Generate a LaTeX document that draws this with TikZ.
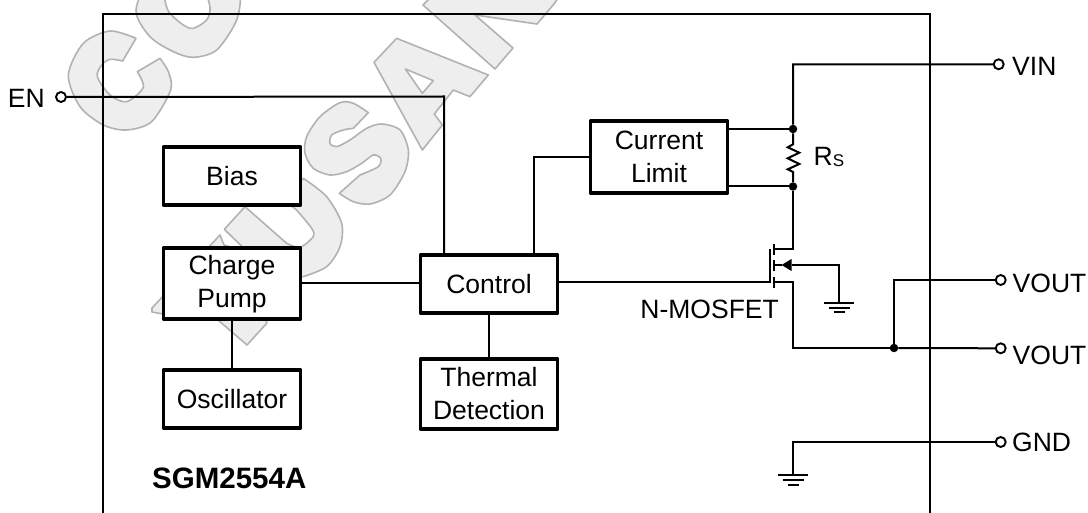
\documentclass[tikz,border=0pt]{standalone}
\usepackage{fontspec}
\setmainfont{Liberation Sans}
\begin{document}
\begin{tikzpicture}[x=1pt,y=-1pt,line join=miter,
  wire/.style={line width=2pt,black},
  wm/.style={draw=black!30,fill=black!6.5,line width=1.6pt,line join=round},
  wmhole/.style={draw=black!30,fill=white,line width=1.6pt,line join=round},
  block/.style={draw=black,fill=white,line width=3.4pt,minimum width=137pt,align=center,inner sep=0pt,font=\fontsize{26.5}{33}\selectfont,line join=round},
  pin/.style={circle,draw=black,fill=white,line width=1.9pt,minimum size=10pt,inner sep=0pt},
  dot/.style={circle,fill=black,minimum size=8.5pt,inner sep=0pt},
  lbl/.style={inner sep=0pt,font=\fontsize{26.5}{30}\selectfont},
  gbars/.pic={
    \draw[line width=2pt] (-15,0) -- (15,0);
    \draw[line width=2pt] (-10.5,5) -- (10.5,5);
    \draw[line width=2pt] (-5.5,9.7) -- (5.5,9.7);
  }]
\useasboundingbox (0,0) rectangle (1088,513);
\fill[white] (0,0) rectangle (1088,513);
\begin{scope}
\clip (0,0) rectangle (1088,513);
% watermark letters
\begin{scope}[shift={(60,0)},scale=1/3]
% C
\draw[wm] plot[smooth] coordinates {(228,115) (150,93) (70,130) (25,225) (60,320) (130,375) (200,390) (275,365) (332,270) (325,215) (300,175)}
  -- plot[smooth] coordinates {(232,215) (250,262) (200,305) (150,285) (112,230) (125,195) (150,178) (188,183)} -- cycle;
% O
\draw[wm,even odd rule] plot[smooth cycle] coordinates {(228,30) (270,110) (340,155) (400,172) (470,150) (530,60) (538,-30) (480,-100) (380,-120) (280,-80)}
  plot[smooth cycle] coordinates {(315,0) (328,38) (370,75) (400,85) (440,60) (450,22) (430,-30) (370,-50) (320,-30)};
\end{scope}
\begin{scope}[shift={(140,100)},scale=1/3]
% U
\draw[wm] (315,320) -- (253,388) -- (400,530) -- plot[smooth] coordinates {(490,530) (560,500) (600,440) (605,370) (560,290) (490,235)} -- (430,300) -- plot[smooth] coordinates {(470,330) (515,385) (520,410) (480,442) (440,430)} -- cycle;
% S
\draw[wm] plot[smooth] coordinates {(685,38) (640,10) (600,8) (540,50) (500,110) (495,160) (520,205) (570,225) (620,215) (665,190) (700,165) (722,175) (715,200) (660,225)} -- plot[smooth] coordinates {(598,280) (640,305) (690,312) (750,285) (795,215) (805,150) (780,90) (725,72) (680,85) (630,120) (590,140) (570,130) (575,105) (610,90) (640,85)} -- cycle;
\end{scope}
% K
\draw[wm] (152,308) -- (220,235) -- (224,245) -- (240,250) -- (267,323) -- (247,345) -- (218,320) -- (163,314) -- (152,312) -- cycle;
\begin{scope}[shift={(300,0)},scale=1/3]
% A
\draw[wm] (290,115) -- (565,225) -- (510,290) -- (460,270) -- (403,342) -- (427,375) -- (367,450) -- (222,187) -- cycle;
\draw[wmhole] (316,207) -- (400,242) -- (367,280) -- cycle;
\end{scope}
% N
\draw[wm] (423,5) -- (495,69) -- (513,48) -- (475,15) -- (537,24) -- (554,4) -- (562,-8) -- (436,-8) -- cycle;
\end{scope}
% frame
\coordinate (fbl) at (103,513);
\coordinate (ftl) at (103,14);
\coordinate (ftr) at (930,14);
\coordinate (fbr) at (930,513);
\draw[line width=2pt] (fbl) -- (ftl) -- (ftr) -- (fbr);
% blocks
\node[block,minimum height=58pt] (bias) at (232,176) {Bias};
\node[block,minimum height=71pt] (cp) at (232,283.5) {};
\node[inner sep=0pt,align=center,font=\fontsize{26.5}{33}\selectfont] (cpt) at (232,284.5) {Charge\\Pump};
\node[block,minimum height=58pt] (osc) at (232,399) {Oscillator};
\node[block,minimum height=58pt] (ctl) at (489,284) {Control};
\node[block,minimum height=70pt] (th) at (489,394) {Thermal\\Detection};
\node[block,minimum height=72pt] (cl) at (659,157) {Current\\Limit};
% pins
\node[pin] (en) at (61,97) {};
\node[pin] (vin) at (998.7,64.3) {};
\node[pin] (vo1) at (1000.7,280) {};
\node[pin] (vo2) at (1000.7,348.3) {};
\node[pin] (gnd) at (1000.7,442) {};
\node[lbl,anchor=base east] (enl) at (45,108) {EN};
\node[lbl,anchor=base west] (vinl) at (1012,76) {VIN};
\node[lbl,anchor=base west] (vo1l) at (1012.5,292.5) {VOUT};
\node[lbl,anchor=base west] (vo2l) at (1012.5,364) {VOUT};
\node[lbl,anchor=base west] (gndl) at (1012,451.5) {GND};
\node[lbl,anchor=base west,font=\bfseries\fontsize{29.5}{30}\selectfont] (chip) at (152,488) {SGM2554A};
\node[lbl,anchor=base east] (nm) at (779,319) {N-MOSFET};
\node[lbl,anchor=base west] (rs) at (813.5,166) {R\raisebox{-1pt}{\fontsize{17}{17}\selectfont S}};
% junctions
\node[dot] (j1) at (793,129) {};
\node[dot] (j2) at (793,186.5) {};
\node[dot] (j3) at (894,348) {};
% mosfet points
\coordinate (gt) at (770,281.7);
\coordinate (dr) at (774,249.5);
\coordinate (so) at (774,281.7);
\coordinate (bd) at (774,265);
\coordinate (tp) at (781.5,265);
\coordinate (ab) at (791.5,265);
\coordinate (g1) at (839,302.7);
\coordinate (g2) at (793,475);
% wires
\draw[wire] (en.east) -- (444,96.5) -- (ctl.north -| 444,0);
\draw[wire] (cp.east) -- (ctl.west |- cp.east);
\draw[wire] (cp.south) -- (osc.north);
\draw[wire] (ctl.south) -- (th.north);
\draw[wire] (ctl.north -| 534,0) -- (534,157) -- (cl.west);
\draw[wire] (ctl.east |- gt) -- (gt);
\draw[wire] (cl.east |- j1) -- (j1);
\draw[wire] (cl.east |- j2) -- (j2);
\draw[wire] (vin.west) -- (793,64.5) -- (j1);
\draw[wire] (j1) -- (793,144.3) -- (787.7,147.3) -- (799.3,152.7) -- (787.7,158.3) -- (799.3,164) -- (787.7,169.3) -- (793,172) -- (j2);
\draw[wire] (j2) -- (793,249.5) -- (dr);
\draw[wire] (so) -- (793,281.7) -- (793,348) -- (j3);
\draw[wire] (j3) -- (vo2.west);
\draw[wire] (j3) -- (894,280) -- (vo1.west);
\draw[wire] (ab) -- (839,265) -- (g1);
\draw[wire] (gnd.west) -- (793,442) -- (g2);
% mosfet symbol
\draw[line width=2pt] (770,249) -- (gt) -- (770,283);
\draw[line width=2pt] (774,244) -- (774,255) (774,260) -- (774,271) (774,277) -- (774,288);
\draw[line width=2pt] (bd) -- (tp);
\fill[black] (tp) -- (ab |- 0,259) -- (ab |- 0,271) -- cycle;
\pic at (g1) {gbars};
\pic at (g2) {gbars};
\end{tikzpicture}
\end{document}
